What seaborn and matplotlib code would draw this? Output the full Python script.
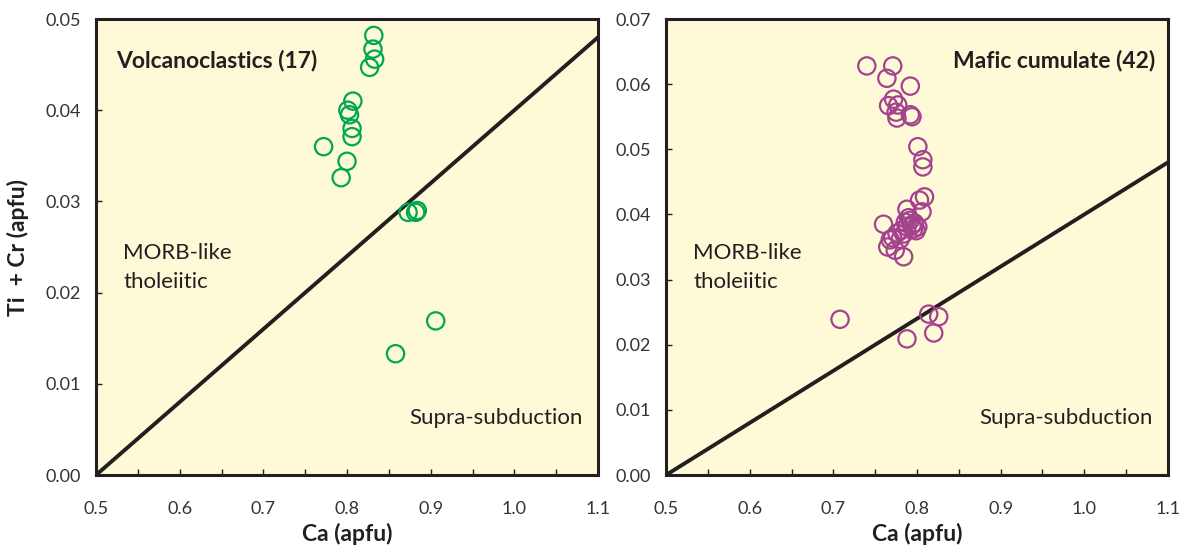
import matplotlib
matplotlib.use("Agg")
import matplotlib.pyplot as plt
from matplotlib.ticker import MultipleLocator
import seaborn as sns
import pandas as pd

# Volcanoclastic samples (17)
volc_ca = [0.832, 0.831, 0.833, 0.827, 0.807, 0.801, 0.803, 0.806, 0.806,
           0.772, 0.800, 0.793, 0.873, 0.882, 0.884, 0.906, 0.858]
volc_ticr = [0.0482, 0.0467, 0.0456, 0.0447, 0.0410, 0.0400, 0.0395, 0.0380, 0.0371,
             0.0360, 0.0344, 0.0326, 0.0288, 0.0288, 0.0290, 0.0169, 0.0133]

# Mafic cumulate samples (42)
maf_ca = [0.740, 0.771, 0.764, 0.792, 0.772, 0.766, 0.777, 0.775, 0.776, 0.792,
          0.794, 0.801, 0.807, 0.807, 0.809, 0.803, 0.806, 0.788, 0.760, 0.792,
          0.797, 0.801, 0.799, 0.788, 0.782, 0.776, 0.771, 0.768, 0.765, 0.774,
          0.784, 0.790, 0.786, 0.794, 0.784, 0.796, 0.780, 0.708, 0.814, 0.826,
          0.820, 0.788]
maf_ticr = [0.0628, 0.0628, 0.0609, 0.0597, 0.0577, 0.0567, 0.0568, 0.0557, 0.0548, 0.0553,
            0.0550, 0.0504, 0.0484, 0.0473, 0.0427, 0.0422, 0.0404, 0.0408, 0.0385, 0.0391,
            0.0387, 0.0381, 0.0375, 0.0381, 0.0376, 0.0371, 0.0364, 0.0361, 0.0350, 0.0345,
            0.0335, 0.0395, 0.0388, 0.0383, 0.0370, 0.0378, 0.0362, 0.0239, 0.0247, 0.0243,
            0.0218, 0.0209]

# Discrimination boundary between MORB-like and supra-subduction fields
boundary_ca = [0.5, 1.1]
boundary_ticr = [0.0, 0.048]

sns.set_theme(style="ticks")
plt.rcParams["font.family"] = ["Lato", "DejaVu Sans"]

DARK = "#231f20"
FIELD = "#fefad8"
GREEN = "#00a651"
PURPLE = "#a3428d"

fig = plt.figure(figsize=(11.83, 5.48), dpi=100)
ax1 = fig.add_axes([0.0812, 0.1332, 0.4243, 0.8321])
ax2 = fig.add_axes([0.5630, 0.1332, 0.4243, 0.8321])

panels = [
    (ax1, volc_ca, volc_ticr, GREEN, 0.05, "Volcanoclastics (17)", 0.04, "left"),
    (ax2, maf_ca, maf_ticr, PURPLE, 0.07, "Mafic cumulate (42)", 0.975, "right"),
]

for ax, xs, ys, col, ymax, title, tx, ha in panels:
    ax.set_facecolor(FIELD)
    df = pd.DataFrame({"Ca": xs, "TiCr": ys})
    sns.lineplot(x=boundary_ca, y=boundary_ticr, ax=ax, color=DARK, linewidth=2.8,
                 zorder=2)
    sns.scatterplot(data=df, x="Ca", y="TiCr", ax=ax, marker="o", s=155,
                    facecolor="none", edgecolor=col, linewidth=1.6, zorder=3)
    ax.set_xlim(0.5, 1.1)
    ax.set_ylim(0.0, ymax)
    ax.xaxis.set_major_locator(MultipleLocator(0.1))
    ax.xaxis.set_minor_locator(MultipleLocator(0.05))
    ax.yaxis.set_major_locator(MultipleLocator(0.01))
    ax.xaxis.set_major_formatter(plt.FuncFormatter(lambda v, p: f"{v:.1f}"))
    ax.yaxis.set_major_formatter(plt.FuncFormatter(lambda v, p: f"{v:.2f}"))
    ax.tick_params(which="both", direction="in", length=4, width=1, colors=DARK,
                   top=False, right=False)
    ax.tick_params(axis="x", which="major", pad=19, labelsize=13, labelcolor="#333333")
    ax.tick_params(axis="y", which="major", pad=11, labelsize=13, labelcolor="#333333")
    for sp in ax.spines.values():
        sp.set_visible(True)
        sp.set_linewidth(2.2)
        sp.set_color(DARK)
    ax.set_xlabel("Ca (apfu)", fontsize=16.5, fontweight="bold", color=DARK, labelpad=4)
    ax.set_ylabel("")
    ax.text(tx, 0.91, title, transform=ax.transAxes, ha=ha, va="center",
            fontsize=16.5, fontweight="bold", color=DARK)
    ax.text(0.054, 0.455, "MORB-like\ntholeiitic", transform=ax.transAxes, ha="left",
            va="center", fontsize=16, color=DARK, linespacing=1.55)
    ax.text(0.97, 0.125, "Supra-subduction", transform=ax.transAxes, ha="right",
            va="center", fontsize=16, color=DARK)

ax1.set_ylabel("Ti  + Cr (apfu)", fontsize=16.5, fontweight="bold", color=DARK,
               labelpad=12)

fig.savefig("out.png", dpi=100, facecolor="white")
